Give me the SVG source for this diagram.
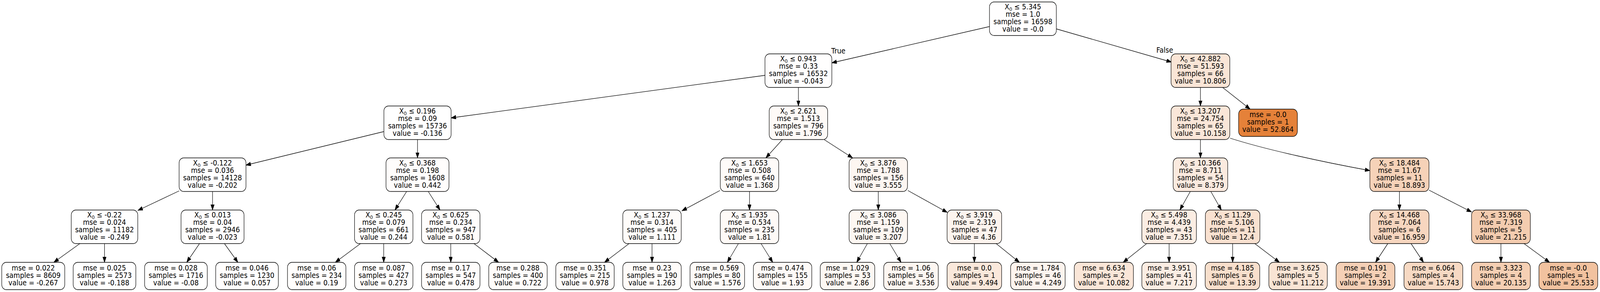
<svg xmlns="http://www.w3.org/2000/svg" width="4547" height="748" viewBox="0 0 4547 748" preserveAspectRatio="none">
<style>
@media (max-width:4546px){svg{width:100vw;height:748px}}
text{font-family:"DejaVu Sans","Liberation Sans",sans-serif;font-size:19px;text-anchor:middle;fill:#000}
.sub{font-size:13px}
.box{stroke:#000;stroke-width:1.3}
.e line,.e path{stroke:#000;stroke-width:1.3;fill:none;marker-end:url(#ah)}
</style>
<defs>
<marker id="ah" markerUnits="userSpaceOnUse" markerWidth="15" markerHeight="11" refX="14" refY="5" orient="auto">
<path d="M0,0 L14,5 L0,10 z" fill="#000" stroke="#000" stroke-width="1"/>
</marker>
</defs>
<rect width="4547" height="748" fill="#fff"/>
<g id="connectors" class="e">
<line x1="2812" y1="68" x2="2364" y2="161"/>
<line x1="3002" y1="74" x2="3329" y2="159"/>
<line x1="2174" y1="193" x2="1282" y2="302"/>
<line x1="2269" y1="224" x2="2269" y2="271.5"/>
<line x1="3411.5" y1="224" x2="3411.5" y2="271.5"/>
<line x1="3474.5" y1="224" x2="3552.6" y2="279.5"/>
<line x1="1091" y1="337" x2="699" y2="423"/>
<line x1="1186.5" y1="357.5" x2="1186.5" y2="404.5"/>
<line x1="2223.5" y1="357.5" x2="2176.5" y2="404.5"/>
<line x1="2342" y1="357.5" x2="2423" y2="404.5"/>
<line x1="3411.5" y1="357.5" x2="3411.5" y2="404.5"/>
<path d="M3496,354 C3600,384 3760,415 3893,437"/>
<line x1="509" y1="489" x2="392" y2="539"/>
<line x1="604" y1="490.5" x2="604" y2="538"/>
<line x1="1155.6" y1="490.5" x2="1122.4" y2="538"/>
<line x1="1217" y1="490.5" x2="1250.5" y2="538"/>
<line x1="2046" y1="488" x2="1938" y2="540"/>
<line x1="2130" y1="490.5" x2="2130" y2="538"/>
<line x1="2496" y1="490.5" x2="2496" y2="538"/>
<line x1="2580" y1="488" x2="2692" y2="544"/>
<line x1="3382.7" y1="490.5" x2="3353" y2="538"/>
<line x1="3441" y1="490.5" x2="3471" y2="538"/>
<line x1="3977" y1="490.5" x2="3977" y2="538"/>
<line x1="4061" y1="487" x2="4182" y2="543"/>
<line x1="227" y1="624" x2="153" y2="672"/>
<line x1="297" y1="624" x2="297" y2="672"/>
<line x1="567" y1="624" x2="530.6" y2="672"/>
<line x1="637.8" y1="624" x2="676" y2="672"/>
<line x1="1024.5" y1="624" x2="953" y2="672"/>
<line x1="1090.5" y1="624" x2="1090.5" y2="672"/>
<line x1="1281" y1="624" x2="1281" y2="672"/>
<line x1="1347" y1="624" x2="1417" y2="672"/>
<line x1="1787.8" y1="624" x2="1718" y2="672"/>
<line x1="1853" y1="624" x2="1853" y2="672"/>
<line x1="2098.5" y1="624" x2="2067" y2="672"/>
<line x1="2162.8" y1="624" x2="2196" y2="672"/>
<line x1="2465" y1="624" x2="2434.7" y2="672"/>
<line x1="2528.6" y1="624" x2="2560.7" y2="672"/>
<line x1="2769" y1="624" x2="2769" y2="672"/>
<line x1="2831" y1="624" x2="2897" y2="672"/>
<line x1="3258.7" y1="624" x2="3192" y2="672"/>
<line x1="3322.5" y1="624" x2="3322.5" y2="672"/>
<line x1="3503" y1="624" x2="3503" y2="672"/>
<line x1="3566" y1="624" x2="3636" y2="672"/>
<line x1="3944" y1="624" x2="3909" y2="672"/>
<line x1="4010" y1="624" x2="4045.5" y2="672"/>
<line x1="4265.5" y1="624" x2="4265.5" y2="672"/>
<line x1="4331" y1="624" x2="4403.6" y2="672"/>
</g>
<g id="edge-labels">
<text x="2382.5" y="137.5">True</text>
<text x="3310" y="135">False</text>
</g>

<g id="n0" transform="translate(2907,48)"><rect class="box" x="-95" y="-43" width="190" height="86" rx="13" fill="#fffefe"/><text y="-23.6">X<tspan class="sub" dy="4">0</tspan><tspan dy="-4"> ≤ 5.345</tspan></text><text y="-4.7">mse = 1.0</text><text y="14.2">samples = 16598</text><text y="33.1">value = -0.0</text></g>
<g id="n1" transform="translate(2269,181)"><rect class="box" x="-95" y="-43" width="190" height="86" rx="13" fill="#fffefe"/><text y="-23.6">X<tspan class="sub" dy="4">0</tspan><tspan dy="-4"> ≤ 0.943</tspan></text><text y="-4.7">mse = 0.33</text><text y="14.2">samples = 16532</text><text y="33.1">value = -0.043</text></g>
<g id="n2" transform="translate(3411.5,181)"><rect class="box" x="-83.5" y="-43" width="167" height="86" rx="13" fill="#fae5d6"/><text y="-23.6">X<tspan class="sub" dy="4">0</tspan><tspan dy="-4"> ≤ 42.882</tspan></text><text y="-4.7">mse = 51.593</text><text y="14.2">samples = 66</text><text y="33.1">value = 10.806</text></g>
<g id="n3" transform="translate(1186.5,314.5)"><rect class="box" x="-95.5" y="-43" width="191" height="86" rx="13" fill="#ffffff"/><text y="-23.6">X<tspan class="sub" dy="4">0</tspan><tspan dy="-4"> ≤ 0.196</tspan></text><text y="-4.7">mse = 0.09</text><text y="14.2">samples = 15736</text><text y="33.1">value = -0.136</text></g>
<g id="n4" transform="translate(2269,314.5)"><rect class="box" x="-83" y="-43" width="166" height="86" rx="13" fill="#fefaf7"/><text y="-23.6">X<tspan class="sub" dy="4">0</tspan><tspan dy="-4"> ≤ 2.621</tspan></text><text y="-4.7">mse = 1.513</text><text y="14.2">samples = 796</text><text y="33.1">value = 1.796</text></g>
<g id="n5" transform="translate(3411.5,314.5)"><rect class="box" x="-83.5" y="-43" width="167" height="86" rx="13" fill="#fae6d8"/><text y="-23.6">X<tspan class="sub" dy="4">0</tspan><tspan dy="-4"> ≤ 13.207</tspan></text><text y="-4.7">mse = 24.754</text><text y="14.2">samples = 65</text><text y="33.1">value = 10.158</text></g>
<g id="n6" transform="translate(3603.5,314.5)"><rect class="box" x="-83.5" y="-35" width="167" height="70" rx="13" fill="#e58139"/><text y="-14.2">mse = -0.0</text><text y="4.7">samples = 1</text><text y="23.6">value = 52.864</text></g>
<g id="n7" transform="translate(604,447.5)"><rect class="box" x="-95" y="-43" width="190" height="86" rx="13" fill="#ffffff"/><text y="-23.6">X<tspan class="sub" dy="4">0</tspan><tspan dy="-4"> ≤ -0.122</tspan></text><text y="-4.7">mse = 0.036</text><text y="14.2">samples = 14128</text><text y="33.1">value = -0.202</text></g>
<g id="n8" transform="translate(1186.5,447.5)"><rect class="box" x="-89.5" y="-43" width="179" height="86" rx="13" fill="#fffdfc"/><text y="-23.6">X<tspan class="sub" dy="4">0</tspan><tspan dy="-4"> ≤ 0.368</tspan></text><text y="-4.7">mse = 0.198</text><text y="14.2">samples = 1608</text><text y="33.1">value = 0.442</text></g>
<g id="n9" transform="translate(2130,447.5)"><rect class="box" x="-83" y="-43" width="166" height="86" rx="13" fill="#fefbf9"/><text y="-23.6">X<tspan class="sub" dy="4">0</tspan><tspan dy="-4"> ≤ 1.653</tspan></text><text y="-4.7">mse = 0.508</text><text y="14.2">samples = 640</text><text y="33.1">value = 1.368</text></g>
<g id="n10" transform="translate(2496,447.5)"><rect class="box" x="-83" y="-43" width="166" height="86" rx="13" fill="#fdf6f1"/><text y="-23.6">X<tspan class="sub" dy="4">0</tspan><tspan dy="-4"> ≤ 3.876</tspan></text><text y="-4.7">mse = 1.788</text><text y="14.2">samples = 156</text><text y="33.1">value = 3.555</text></g>
<g id="n11" transform="translate(3411.5,447.5)"><rect class="box" x="-77.5" y="-43" width="155" height="86" rx="13" fill="#fbeadf"/><text y="-23.6">X<tspan class="sub" dy="4">0</tspan><tspan dy="-4"> ≤ 10.366</tspan></text><text y="-4.7">mse = 8.711</text><text y="14.2">samples = 54</text><text y="33.1">value = 8.379</text></g>
<g id="n12" transform="translate(3977,447.5)"><rect class="box" x="-84" y="-43" width="168" height="86" rx="13" fill="#f6d2b8"/><text y="-23.6">X<tspan class="sub" dy="4">0</tspan><tspan dy="-4"> ≤ 18.484</tspan></text><text y="-4.7">mse = 11.67</text><text y="14.2">samples = 11</text><text y="33.1">value = 18.893</text></g>
<g id="n13" transform="translate(297,581)"><rect class="box" x="-94.5" y="-43" width="189" height="86" rx="13" fill="#ffffff"/><text y="-23.6">X<tspan class="sub" dy="4">0</tspan><tspan dy="-4"> ≤ -0.22</tspan></text><text y="-4.7">mse = 0.024</text><text y="14.2">samples = 11182</text><text y="33.1">value = -0.249</text></g>
<g id="n14" transform="translate(604,581)"><rect class="box" x="-89.5" y="-43" width="179" height="86" rx="13" fill="#fffefe"/><text y="-23.6">X<tspan class="sub" dy="4">0</tspan><tspan dy="-4"> ≤ 0.013</tspan></text><text y="-4.7">mse = 0.04</text><text y="14.2">samples = 2946</text><text y="33.1">value = -0.023</text></g>
<g id="n15" transform="translate(1090.5,581)"><rect class="box" x="-83" y="-43" width="166" height="86" rx="13" fill="#fffefd"/><text y="-23.6">X<tspan class="sub" dy="4">0</tspan><tspan dy="-4"> ≤ 0.245</tspan></text><text y="-4.7">mse = 0.079</text><text y="14.2">samples = 661</text><text y="33.1">value = 0.244</text></g>
<g id="n16" transform="translate(1281,581)"><rect class="box" x="-83" y="-43" width="166" height="86" rx="13" fill="#fffdfc"/><text y="-23.6">X<tspan class="sub" dy="4">0</tspan><tspan dy="-4"> ≤ 0.625</tspan></text><text y="-4.7">mse = 0.234</text><text y="14.2">samples = 947</text><text y="33.1">value = 0.581</text></g>
<g id="n17" transform="translate(1853,581)"><rect class="box" x="-83" y="-43" width="166" height="86" rx="13" fill="#fefcfa"/><text y="-23.6">X<tspan class="sub" dy="4">0</tspan><tspan dy="-4"> ≤ 1.237</tspan></text><text y="-4.7">mse = 0.314</text><text y="14.2">samples = 405</text><text y="33.1">value = 1.111</text></g>
<g id="n18" transform="translate(2130,581)"><rect class="box" x="-83" y="-43" width="166" height="86" rx="13" fill="#fefaf7"/><text y="-23.6">X<tspan class="sub" dy="4">0</tspan><tspan dy="-4"> ≤ 1.935</tspan></text><text y="-4.7">mse = 0.534</text><text y="14.2">samples = 235</text><text y="33.1">value = 1.81</text></g>
<g id="n19" transform="translate(2496,581)"><rect class="box" x="-83" y="-43" width="166" height="86" rx="13" fill="#fdf7f2"/><text y="-23.6">X<tspan class="sub" dy="4">0</tspan><tspan dy="-4"> ≤ 3.086</tspan></text><text y="-4.7">mse = 1.159</text><text y="14.2">samples = 109</text><text y="33.1">value = 3.207</text></g>
<g id="n20" transform="translate(2769,581)"><rect class="box" x="-77.5" y="-43" width="155" height="86" rx="13" fill="#fdf4ee"/><text y="-23.6">X<tspan class="sub" dy="4">0</tspan><tspan dy="-4"> ≤ 3.919</tspan></text><text y="-4.7">mse = 2.319</text><text y="14.2">samples = 47</text><text y="33.1">value = 4.36</text></g>
<g id="n21" transform="translate(3322.5,581)"><rect class="box" x="-77.5" y="-43" width="155" height="86" rx="13" fill="#fbede3"/><text y="-23.6">X<tspan class="sub" dy="4">0</tspan><tspan dy="-4"> ≤ 5.498</tspan></text><text y="-4.7">mse = 4.439</text><text y="14.2">samples = 43</text><text y="33.1">value = 7.351</text></g>
<g id="n22" transform="translate(3503,581)"><rect class="box" x="-77.5" y="-43" width="155" height="86" rx="13" fill="#f9e1d0"/><text y="-23.6">X<tspan class="sub" dy="4">0</tspan><tspan dy="-4"> ≤ 11.29</tspan></text><text y="-4.7">mse = 5.106</text><text y="14.2">samples = 11</text><text y="33.1">value = 12.4</text></g>
<g id="n23" transform="translate(3977,581)"><rect class="box" x="-84" y="-43" width="168" height="86" rx="13" fill="#f7d6bf"/><text y="-23.6">X<tspan class="sub" dy="4">0</tspan><tspan dy="-4"> ≤ 14.468</tspan></text><text y="-4.7">mse = 7.064</text><text y="14.2">samples = 6</text><text y="33.1">value = 16.959</text></g>
<g id="n24" transform="translate(4265.5,581)"><rect class="box" x="-83.5" y="-43" width="167" height="86" rx="13" fill="#f4ccaf"/><text y="-23.6">X<tspan class="sub" dy="4">0</tspan><tspan dy="-4"> ≤ 33.968</tspan></text><text y="-4.7">mse = 7.319</text><text y="14.2">samples = 5</text><text y="33.1">value = 21.215</text></g>

<g id="l0" transform="translate(94.5,707)"><rect class="box" x="-89.5" y="-35" width="179" height="70" rx="13" fill="#ffffff"/><text y="-14.2">mse = 0.022</text><text y="4.7">samples = 8609</text><text y="23.6">value = -0.267</text></g>
<g id="l1" transform="translate(297,707)"><rect class="box" x="-89" y="-35" width="178" height="70" rx="13" fill="#ffffff"/><text y="-14.2">mse = 0.025</text><text y="4.7">samples = 2573</text><text y="23.6">value = -0.188</text></g>
<g id="l2" transform="translate(500,707)"><rect class="box" x="-89" y="-35" width="178" height="70" rx="13" fill="#fffffe"/><text y="-14.2">mse = 0.028</text><text y="4.7">samples = 1716</text><text y="23.6">value = -0.08</text></g>
<g id="l3" transform="translate(702,707)"><rect class="box" x="-89" y="-35" width="178" height="70" rx="13" fill="#fffefe"/><text y="-14.2">mse = 0.046</text><text y="4.7">samples = 1230</text><text y="23.6">value = 0.057</text></g>
<g id="l4" transform="translate(900,707)"><rect class="box" x="-83" y="-35" width="166" height="70" rx="13" fill="#fffefd"/><text y="-14.2">mse = 0.06</text><text y="4.7">samples = 234</text><text y="23.6">value = 0.19</text></g>
<g id="l5" transform="translate(1090.5,707)"><rect class="box" x="-83" y="-35" width="166" height="70" rx="13" fill="#fffefd"/><text y="-14.2">mse = 0.087</text><text y="4.7">samples = 427</text><text y="23.6">value = 0.273</text></g>
<g id="l6" transform="translate(1281,707)"><rect class="box" x="-83" y="-35" width="166" height="70" rx="13" fill="#fffdfc"/><text y="-14.2">mse = 0.17</text><text y="4.7">samples = 547</text><text y="23.6">value = 0.478</text></g>
<g id="l7" transform="translate(1472,707)"><rect class="box" x="-83" y="-35" width="166" height="70" rx="13" fill="#fffdfb"/><text y="-14.2">mse = 0.288</text><text y="4.7">samples = 400</text><text y="23.6">value = 0.722</text></g>
<g id="l8" transform="translate(1662.5,707)"><rect class="box" x="-83" y="-35" width="166" height="70" rx="13" fill="#fefcfa"/><text y="-14.2">mse = 0.351</text><text y="4.7">samples = 215</text><text y="23.6">value = 0.978</text></g>
<g id="l9" transform="translate(1853,707)"><rect class="box" x="-83" y="-35" width="166" height="70" rx="13" fill="#fefbf9"/><text y="-14.2">mse = 0.23</text><text y="4.7">samples = 190</text><text y="23.6">value = 1.263</text></g>
<g id="l10" transform="translate(2038.5,707)"><rect class="box" x="-77.5" y="-35" width="155" height="70" rx="13" fill="#fefbf8"/><text y="-14.2">mse = 0.569</text><text y="4.7">samples = 80</text><text y="23.6">value = 1.576</text></g>
<g id="l11" transform="translate(2224,707)"><rect class="box" x="-83" y="-35" width="166" height="70" rx="13" fill="#fefaf7"/><text y="-14.2">mse = 0.474</text><text y="4.7">samples = 155</text><text y="23.6">value = 1.93</text></g>
<g id="l12" transform="translate(2408.5,707)"><rect class="box" x="-77.5" y="-35" width="155" height="70" rx="13" fill="#fdf8f3"/><text y="-14.2">mse = 1.029</text><text y="4.7">samples = 53</text><text y="23.6">value = 2.86</text></g>
<g id="l13" transform="translate(2589,707)"><rect class="box" x="-77.5" y="-35" width="155" height="70" rx="13" fill="#fdf6f1"/><text y="-14.2">mse = 1.06</text><text y="4.7">samples = 56</text><text y="23.6">value = 3.536</text></g>
<g id="l14" transform="translate(2769,707)"><rect class="box" x="-77.5" y="-35" width="155" height="70" rx="13" fill="#fae8db"/><text y="-14.2">mse = 0.0</text><text y="4.7">samples = 1</text><text y="23.6">value = 9.494</text></g>
<g id="l15" transform="translate(2949.5,707)"><rect class="box" x="-77.5" y="-35" width="155" height="70" rx="13" fill="#fdf4ee"/><text y="-14.2">mse = 1.784</text><text y="4.7">samples = 46</text><text y="23.6">value = 4.249</text></g>
<g id="l16" transform="translate(3137,707)"><rect class="box" x="-84" y="-35" width="168" height="70" rx="13" fill="#fae6d8"/><text y="-14.2">mse = 6.634</text><text y="4.7">samples = 2</text><text y="23.6">value = 10.082</text></g>
<g id="l17" transform="translate(3322.5,707)"><rect class="box" x="-77.5" y="-35" width="155" height="70" rx="13" fill="#fbede3"/><text y="-14.2">mse = 3.951</text><text y="4.7">samples = 41</text><text y="23.6">value = 7.217</text></g>
<g id="l18" transform="translate(3502.5,707)"><rect class="box" x="-77.5" y="-35" width="155" height="70" rx="13" fill="#f8dfcc"/><text y="-14.2">mse = 4.185</text><text y="4.7">samples = 6</text><text y="23.6">value = 13.39</text></g>
<g id="l19" transform="translate(3689,707)"><rect class="box" x="-83" y="-35" width="166" height="70" rx="13" fill="#f9e4d4"/><text y="-14.2">mse = 3.625</text><text y="4.7">samples = 5</text><text y="23.6">value = 11.212</text></g>
<g id="l20" transform="translate(3880.5,707)"><rect class="box" x="-83.5" y="-35" width="167" height="70" rx="13" fill="#f5d0b6"/><text y="-14.2">mse = 0.191</text><text y="4.7">samples = 2</text><text y="23.6">value = 19.391</text></g>
<g id="l21" transform="translate(4073.5,707)"><rect class="box" x="-83.5" y="-35" width="167" height="70" rx="13" fill="#f7d9c3"/><text y="-14.2">mse = 6.064</text><text y="4.7">samples = 4</text><text y="23.6">value = 15.743</text></g>
<g id="l22" transform="translate(4265.5,707)"><rect class="box" x="-83.5" y="-35" width="167" height="70" rx="13" fill="#f5cfb3"/><text y="-14.2">mse = 3.323</text><text y="4.7">samples = 4</text><text y="23.6">value = 20.135</text></g>
<g id="l23" transform="translate(4457,707)"><rect class="box" x="-83.5" y="-35" width="167" height="70" rx="13" fill="#f2c29f"/><text y="-14.2">mse = -0.0</text><text y="4.7">samples = 1</text><text y="23.6">value = 25.533</text></g>
</svg>
